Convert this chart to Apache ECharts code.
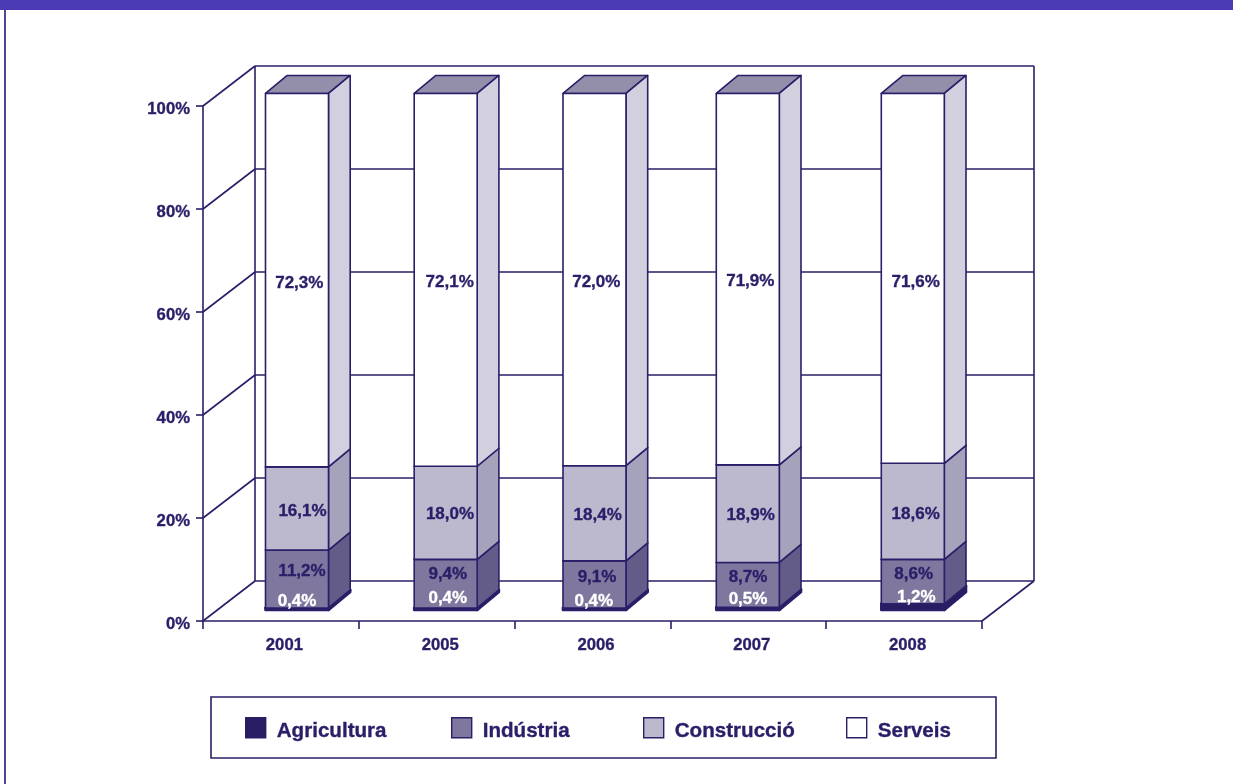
<!DOCTYPE html>
<html><head><meta charset="utf-8">
<style>html,body{margin:0;padding:0;background:#fff}#c{width:1233px;height:784px}</style>
<script src="https://cdn.jsdelivr.net/npm/echarts@6/dist/echarts.min.js"></script>
</head><body><div id="c"></div>
<script>
// ---- data ----
var years = ['2001','2005','2006','2007','2008'];
var yTicks = [0,20,40,60,80,100];
var agricultura  = [0.4,0.4,0.4,0.5,1.2];
var industria    = [11.2,9.4,9.1,8.7,8.6];
var construccio  = [16.1,18.0,18.4,18.9,18.6];
var serveis      = [72.3,72.1,72.0,71.9,71.6];

// ---- layout and style constants ----
var INK = '#2a1e68';
var LINE = 1.6;
var FONT = 'bold 17px "Liberation Sans", Arial, sans-serif';
var HEAVY = 0.35;
var WALL = {dx:52, dy:-40};
var BAR = {width:63, dx:21.7, dy:-18, lift:11, scale:1.003};
var barShift = [16.1,9,2,-0.5,8.7];
var labelShift = {
  Agricultura:[[0,-8],[2.1,-11],[-0.7,-8],[0.2,-9.7],[3.5,-9.2]],
  'Indústria':[[5,-7.7],[2.1,-9.7],[2.5,-6.7],[0.2,-7.3],[0.9,-7.6]],
  'Construcció':[[5.5,3.2],[4.3,2],[3.2,1.6],[2.9,1.3],[2.9,2.7]],
  Serveis:[[2.3,2.8],[4,2.8],[1.8,2.5],[2.5,2.5],[2.9,3.6]]
};
var layers = [
  {name:'Agricultura', values:agricultura, front:'#281c63', side:'#281c63', top:'#281c63', text:'#ffffff', legendLeft:245, edge:2.6},
  {name:'Indústria',   values:industria,   front:'#7f779e', side:'#635b88', top:'#4f4778', text:INK, legendLeft:451, edge:LINE},
  {name:'Construcció', values:construccio, front:'#bcb9cf', side:'#a5a2bc', top:'#7f779e', text:INK, legendLeft:643, edge:LINE},
  {name:'Serveis',     values:serveis,     front:'#ffffff', side:'#d2d0de', top:'#938eaa', text:INK, legendLeft:846, edge:LINE}
];

function cumulative(layerIdx, i){
  var total=0, upto=0;
  layers.forEach(function(l,k){ total+=l.values[i]; if(k<=layerIdx) upto+=l.values[i]; });
  return upto/total*100;
}
function barPixels(api, layerIdx, i){
  var lo = layerIdx>0 ? cumulative(layerIdx-1,i) : 0;
  var hi = cumulative(layerIdx,i);
  var p0 = api.coord([i,0]);
  var pLo = api.coord([i,lo*BAR.scale]);
  var pHi = api.coord([i,hi*BAR.scale]);
  var cx = p0[0]+barShift[i];
  return {l:cx-BAR.width/2, r:cx+BAR.width/2, cx:cx, b:pLo[1]-BAR.lift, t:pHi[1]-BAR.lift};
}
function face(points, fill, edge){
  return {type:'polygon', shape:{points:points},
    style:{fill:fill, stroke:INK, lineWidth:edge, lineJoin:'round'}};
}
function barRender(layerIdx){
  var L = layers[layerIdx];
  return function(params, api){
    var i = api.value(0), p = barPixels(api, layerIdx, i), dx=BAR.dx, dy=BAR.dy;
    return {type:'group', children:[
      face([[p.l,p.t],[p.r,p.t],[p.r+dx,p.t+dy],[p.l+dx,p.t+dy]], L.top, L.edge),
      face([[p.r,p.b],[p.r+dx,p.b+dy],[p.r+dx,p.t+dy],[p.r,p.t]], L.side, L.edge),
      face([[p.l,p.b],[p.r,p.b],[p.r,p.t],[p.l,p.t]], L.front, L.edge)
    ]};
  };
}
function labelRender(layerIdx){
  var L = layers[layerIdx];
  return function(params, api){
    var i = api.value(0), p = barPixels(api, layerIdx, i), s = labelShift[L.name][i];
    return {type:'text', style:{
      text: L.values[i].toFixed(1).replace('.',',')+'%',
      x:p.cx+s[0], y:(p.t+p.b)/2+s[1], fill:L.text, font:FONT, align:'center', verticalAlign:'middle',
      stroke:L.text, lineWidth:HEAVY}};
  };
}
function wallRender(params, api){
  var v = api.value(0);
  var a = api.coord([0,v]);
  var width = params.coordSys.width;
  var x0 = params.coordSys.x;
  var line = function(x1,y1,x2,y2){
    return {type:'line', shape:{x1:x1,y1:y1,x2:x2,y2:y2}, style:{stroke:INK, lineWidth:LINE}};
  };
  var kids = [
    line(x0,a[1],x0+WALL.dx,a[1]+WALL.dy),
    line(x0+WALL.dx,a[1]+WALL.dy,x0+width+WALL.dx,a[1]+WALL.dy)
  ];
  if(v===0){
    var topY = params.coordSys.y;
    kids.push(line(x0+width,a[1],x0+width+WALL.dx,a[1]+WALL.dy));
    kids.push(line(x0+WALL.dx,a[1]+WALL.dy,x0+WALL.dx,topY+WALL.dy));
    kids.push(line(x0+width+WALL.dx,a[1]+WALL.dy,x0+width+WALL.dx,topY+WALL.dy));
  }
  return {type:'group', children:kids};
}

var series = [{
  type:'custom', name:'walls', silent:true, clip:false, z:1,
  renderItem:wallRender, encode:{y:0}, data:yTicks.map(function(v){return [v];})
}];
layers.forEach(function(L,k){
  series.push({type:'custom', name:L.name, clip:false, z:3+k, silent:true,
    itemStyle:{color:L.front}, renderItem:barRender(k), encode:{x:0,y:1},
    data:years.map(function(y,i){return [i,cumulative(k,i)];})});
});
layers.forEach(function(L,k){
  series.push({type:'custom', name:L.name+' labels', clip:false, z:10, silent:true,
    renderItem:labelRender(k), encode:{x:0,y:1},
    data:years.map(function(y,i){return [i,cumulative(k,i)];})});
});

var axisText = {color:INK, fontFamily:'Liberation Sans', fontWeight:'bold', fontSize:16.7,
  textBorderColor:INK, textBorderWidth:HEAVY};
var yRich = Object.assign({lineHeight:23, verticalAlign:'bottom'}, axisText);
var legendRich = {color:INK, fontFamily:'Liberation Sans', fontWeight:'bold', fontSize:20.6,
  textBorderColor:INK, textBorderWidth:HEAVY, lineHeight:28, verticalAlign:'bottom', padding:[0,0,0,6]};
var chart = echarts.init(document.getElementById('c'), null, {renderer:'canvas'});
chart.setOption({
  animation:false,
  backgroundColor:'#ffffff',
  grid:{left:203, top:106, width:779, height:515, containLabel:false},
  xAxis:{type:'category', data:years, boundaryGap:true,
    axisLine:{onZero:false, lineStyle:{color:INK,width:LINE}},
    axisTick:{show:true, alignWithLabel:false, length:8, lineStyle:{color:INK,width:LINE}},
    axisLabel:Object.assign({margin:16, padding:[0,0,0,7], interval:0}, axisText),
    splitLine:{show:false}},
  yAxis:{type:'value', min:0, max:100, interval:20,
    axisLine:{show:true, lineStyle:{color:INK,width:LINE}},
    axisTick:{show:true, length:7, lineStyle:{color:INK,width:LINE}},
    axisLabel:{margin:13, rich:{a:yRich},
      formatter:function(v){return '{a|'+v+'%}';}},
    splitLine:{show:false}},
  legend:layers.map(function(L){
    return {data:[L.name], left:L.legendLeft, top:717, padding:0, orient:'horizontal', icon:'rect',
      itemWidth:20, itemHeight:20, selectedMode:false,
      itemStyle:{borderColor:INK, borderWidth:1.4},
      formatter:'{a|{name}}',
      textStyle:{rich:{a:legendRich}}};
  }),
  graphic:[
    {type:'rect', silent:true, shape:{x:0,y:0,width:1233,height:10}, style:{fill:'#4b3bb5'}},
    {type:'rect', silent:true, shape:{x:4,y:10,width:2,height:774}, style:{fill:'#4f468f'}},
    {type:'rect', silent:true, z:-1, shape:{x:211,y:697,width:785,height:61},
      style:{fill:'#ffffff', stroke:INK, lineWidth:1.6}}
  ],
  series:series
});
</script></body></html>
